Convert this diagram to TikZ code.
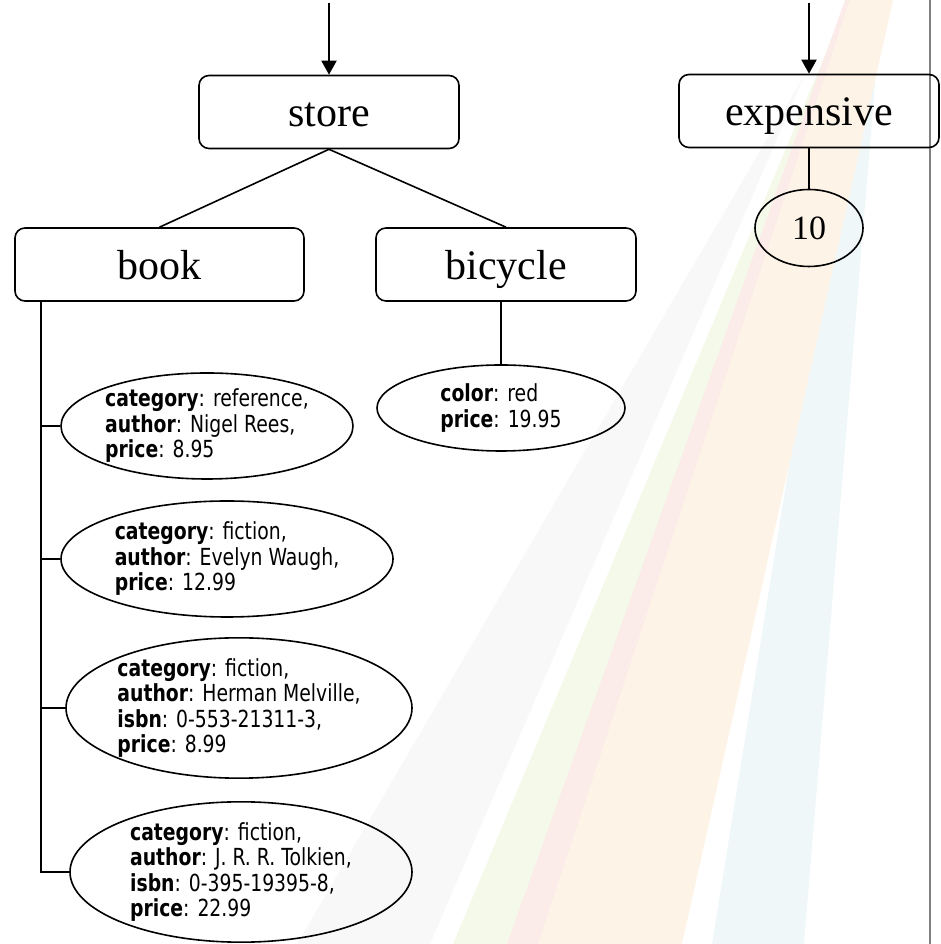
\documentclass[tikz,border=0pt]{standalone}
\usepackage{fontspec}
\setmainfont{Liberation Serif}
\newfontfamily\tahoma[FakeStretch=0.8]{DejaVu Sans}
\usetikzlibrary{arrows.meta,shapes.geometric}
\definecolor{raygray}{RGB}{248,248,248}
\definecolor{raygreen}{RGB}{244,249,234}
\definecolor{raypink}{RGB}{252,236,233}
\definecolor{rayorange}{RGB}{254,243,231}
\definecolor{rayblue}{RGB}{239,247,249}
\tikzset{
  key/.style={draw, rounded corners=10pt, minimum width=260pt, minimum height=73pt,
    text height=37pt, text depth=7pt, inner ysep=0pt,
    font=\fontsize{42}{48}\selectfont},
  item/.style={draw, ellipse, inner sep=0pt, align=left,
    font=\tahoma\fontsize{23.5}{25.5}\selectfont},
  feed/.style={-{Triangle[length=14pt,width=15pt]}, line width=2pt},
}
\begin{document}
\begin{tikzpicture}[x=1pt,y=1pt,line width=1.6pt]
\useasboundingbox (0,0) rectangle (941,944);
% background rays
\fill[raygray] (805,870)--(297,0)--(430,0)--cycle;
\fill[rayblue] (864,944)--(882,944)--(804,0)--(712,0)--cycle;
\fill[raygreen] (848,944)--(852,944)--(512,0)--(453,0)--cycle;
\fill[raypink] (845,944)--(850,944)--(545,0)--(507,0)--cycle;
\fill[rayorange] (850,944)--(893,944)--(682,0)--(538,0)--cycle;
\draw[line width=2pt, black!50] (930,0)--(930,944);

\node[key] (store) at (329,832) {store};
\node[key] (expensive) at (809,833) {expensive};
\node[key, minimum width=289pt] (book) at (159.5,679.5) {book};
\node[key] (bicycle) at (506,679.5) {bicycle};
\node[item, minimum width=108pt, minimum height=77pt,
  font=\fontsize{34}{38}\selectfont] (ten) at (809,716) {10};
\node[item, minimum width=248pt, minimum height=86pt] (bike1) at (501,536)
  {\textbf{color}: red\\ \textbf{price}: 19.95};
\node[item, minimum width=292pt, minimum height=106pt] (b1) at (207,518)
  {\textbf{category}: reference,\\ \textbf{author}: Nigel Rees,\\ \textbf{price}: 8.95};
\node[item, minimum width=332pt, minimum height=116pt] (b2) at (227,385)
  {\textbf{category}: fiction,\\ \textbf{author}: Evelyn Waugh,\\ \textbf{price}: 12.99};
\node[item, minimum width=346pt, minimum height=138pt] (b3) at (239,236)
  {\textbf{category}: fiction,\\ \textbf{author}: Herman Melville,\\
   \textbf{isbn}: 0-553-21311-3,\\ \textbf{price}: 8.99};
\node[item, minimum width=342pt, minimum height=140pt] (b4) at (241,72)
  {\textbf{category}: fiction,\\ \textbf{author}: J. R. R. Tolkien,\\
   \textbf{isbn}: 0-395-19395-8,\\ \textbf{price}: 22.99};

\coordinate (in1) at (329,941);
\coordinate (in2) at (809,941);
\coordinate (trunk) at (41,0);
\draw[feed] (in1) -- (store.north);
\draw[feed] (in2) -- (expensive.north);
\draw (store.south) -- (book.north);
\draw (store.south) -- (bicycle.north);
\draw (expensive.south) -- (ten.north);
\draw (bike1.north) -- (bike1.north |- bicycle.south);
\draw (book.south -| trunk) -- (b4.west -| trunk) -- (b4.west);
\foreach \b in {b1,b2,b3}
  \draw (\b.west -| trunk) -- (\b.west);
\end{tikzpicture}
\end{document}
